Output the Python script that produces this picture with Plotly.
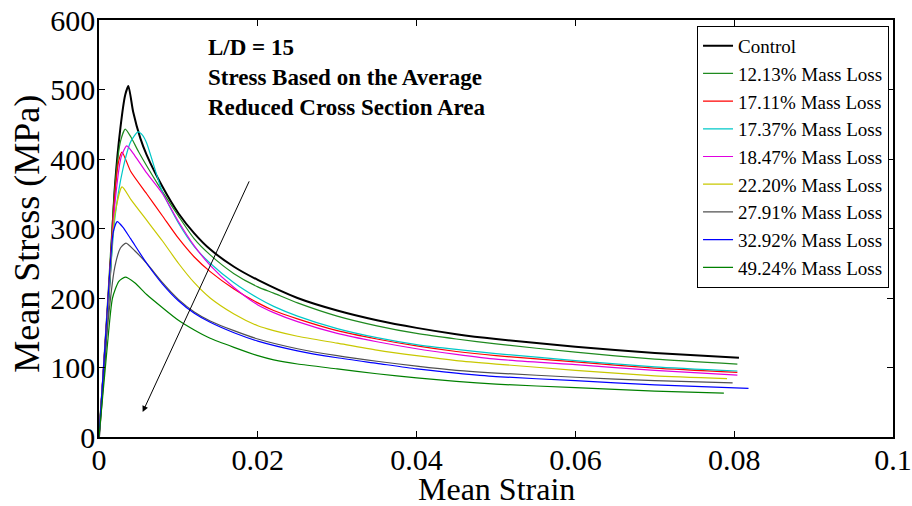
import plotly.graph_objects as go

# curve readings (strain, MPa)
control_x = [0, 0.0007, 0.0014, 0.002, 0.0027, 0.0033, 0.0037, 0.0043, 0.0052, 0.006, 0.008, 0.010, 0.012, 0.014, 0.017, 0.020, 0.025, 0.030, 0.035, 0.040, 0.045, 0.050, 0.060, 0.070, 0.0806]
control_y = [0, 110, 235, 360, 445, 492, 505, 468, 430, 406, 360, 322, 293, 270, 245, 226, 200, 182, 168, 157, 148, 141, 130, 121, 114]

ml1213_x = [0, 0.001, 0.002, 0.0027, 0.0033, 0.004, 0.005, 0.0075, 0.010, 0.012, 0.014, 0.017, 0.020, 0.022, 0.025, 0.030, 0.035, 0.040, 0.045, 0.050, 0.060, 0.070, 0.0804]
ml1213_y = [0, 180, 360, 425, 443, 432, 410, 362, 318, 285, 262, 235, 216, 207, 193, 174, 160, 149, 141, 134, 122, 112, 105]

ml1711_x = [0, 0.001, 0.002, 0.0025, 0.0029, 0.004, 0.006, 0.008, 0.010, 0.012, 0.014, 0.017, 0.020, 0.022, 0.025, 0.030, 0.035, 0.040, 0.045, 0.050, 0.060, 0.070, 0.0804]
ml1711_y = [0, 175, 350, 398, 410, 382, 350, 318, 286, 259, 238, 213, 193, 182, 170, 153, 141, 131, 123, 117, 108, 99, 93]

ml1737_x = [0, 0.001, 0.002, 0.003, 0.004, 0.0049, 0.0055, 0.006, 0.0073, 0.008, 0.010, 0.012, 0.014, 0.017, 0.020, 0.022, 0.025, 0.030, 0.035, 0.040, 0.045, 0.050, 0.060, 0.070, 0.0804]
ml1737_y = [0, 165, 315, 385, 425, 439, 434, 423, 376, 352, 308, 274, 250, 222, 200, 188, 174, 156, 143, 133, 126, 120, 110, 101, 95]

ml1847_x = [0, 0.001, 0.002, 0.0028, 0.0035, 0.0045, 0.006, 0.008, 0.010, 0.012, 0.014, 0.017, 0.020, 0.022, 0.025, 0.030, 0.035, 0.040, 0.045, 0.050, 0.060, 0.070, 0.0804]
ml1847_y = [0, 170, 335, 403, 419, 405, 380, 350, 310, 275, 247, 215, 190, 179, 166, 149, 137, 127, 119, 112, 104, 96, 89]

ml2220_x = [0, 0.001, 0.002, 0.0029, 0.004, 0.006, 0.008, 0.010, 0.012, 0.014, 0.017, 0.020, 0.022, 0.025, 0.030, 0.035, 0.040, 0.045, 0.050, 0.060, 0.070, 0.0791]
ml2220_y = [0, 170, 320, 360, 342, 312, 282, 250, 222, 200, 177, 160, 153, 145, 135, 125, 117, 110, 105, 96, 88, 84]

ml2791_x = [0, 0.001, 0.002, 0.0027, 0.0034, 0.0045, 0.006, 0.008, 0.010, 0.012, 0.014, 0.017, 0.020, 0.025, 0.030, 0.035, 0.040, 0.045, 0.050, 0.060, 0.070, 0.0798]
ml2791_y = [0, 150, 245, 272, 279, 268, 250, 222, 198, 180, 167, 153, 141, 127, 117, 109, 102, 96, 92, 86, 81, 78]

ml3292_x = [0, 0.001, 0.0018, 0.0023, 0.003, 0.004, 0.006, 0.008, 0.010, 0.012, 0.014, 0.017, 0.020, 0.025, 0.030, 0.035, 0.040, 0.045, 0.050, 0.060, 0.070, 0.0818]
ml3292_y = [0, 175, 295, 310, 302, 285, 250, 220, 196, 178, 165, 150, 138, 124, 114, 106, 98, 92, 87, 81, 75, 70]

ml4924_x = [0, 0.001, 0.0017, 0.0025, 0.0033, 0.0045, 0.006, 0.008, 0.010, 0.012, 0.014, 0.017, 0.020, 0.022, 0.025, 0.030, 0.035, 0.040, 0.045, 0.050, 0.060, 0.070, 0.0787]
ml4924_y = [0, 125, 200, 224, 230, 222, 205, 186, 168, 154, 142, 129, 117, 111, 105, 98, 91, 85, 80, 76, 71, 66, 63]

names = ['Control', '12.13% Mass Loss', '17.11% Mass Loss', '17.37% Mass Loss', '18.47% Mass Loss',
         '22.20% Mass Loss', '27.91% Mass Loss', '32.92% Mass Loss', '49.24% Mass Loss']
colors = ['#000000', '#1f8a1f', '#ff0000', '#00c8c8', '#e000e0', '#c8c800', '#505050', '#0000ff', '#008000']
widths = [2, 1.2, 1.2, 1.2, 1.2, 1.2, 1.2, 1.2, 1.2]
series = [(control_x, control_y), (ml1213_x, ml1213_y), (ml1711_x, ml1711_y), (ml1737_x, ml1737_y),
          (ml1847_x, ml1847_y), (ml2220_x, ml2220_y), (ml2791_x, ml2791_y), (ml3292_x, ml3292_y),
          (ml4924_x, ml4924_y)]

font = 'Liberation Serif, Times New Roman, serif'

fig = go.Figure()
for (xs, ys), name, color, w in zip(series, names, colors, widths):
    fig.add_trace(go.Scatter(x=xs, y=ys, name=name, mode='lines',
                             line=dict(color=color, width=w, shape='spline', smoothing=0.6)))

fig.add_annotation(x=0.0055, y=36, ax=0.019, ay=370, xref='x', yref='y', axref='x', ayref='y',
                   text='', showarrow=True, arrowhead=2, arrowsize=1.2, arrowwidth=1, arrowcolor='black')
fig.add_annotation(x=0.0135, y=582, xref='x', yref='y', xanchor='left', yanchor='top', align='left',
                   showarrow=False,
                   text='<b>L/D = 15</b><br><b>Stress Based on the Average</b><br><b>Reduced Cross Section Area</b>',
                   font=dict(family=font, size=23, color='black'))
# axis titles
fig.add_annotation(x=0.5, y=-0.125, xref='paper', yref='paper', xanchor='center', yanchor='middle',
                   showarrow=False, text='Mean Strain', font=dict(family=font, size=32, color='black'))
fig.add_annotation(x=-0.091, y=0.487, xref='paper', yref='paper', xanchor='center', yanchor='middle',
                   showarrow=False, textangle=-90, text='Mean Stress (MPa)',
                   font=dict(family=font, size=36, color='black'))

axis = dict(showline=True, linecolor='black', linewidth=1.5, mirror='ticks', ticks='inside',
            ticklen=6, tickcolor='black', showgrid=False, zeroline=False, automargin=False,
            tickfont=dict(family=font, size=30, color='black'))
fig.update_xaxes(range=[0, 0.1], tickvals=[0, 0.02, 0.04, 0.06, 0.08, 0.1],
                 ticktext=['0', '0.02', '0.04', '0.06', '0.08', '0.1'], ticklabelstandoff=-5, **axis)
fig.update_yaxes(range=[0, 600], dtick=100, ticklabelstandoff=-4, **axis)
fig.update_layout(
    width=912, height=506,
    margin=dict(l=99, r=19, t=20, b=69),
    plot_bgcolor='white', paper_bgcolor='white',
    legend=dict(x=0.995, y=0.986, xanchor='right', yanchor='top', bgcolor='white',
                bordercolor='black', borderwidth=1, itemwidth=30, tracegroupgap=0,
                font=dict(family=font, size=19, color='black')),
)
# drop the page's default 8px body margin so the figure sits at the window corner
fig.write_html('out.html', config={'displayModeBar': False},
               post_script="document.body.style.margin='0';")
